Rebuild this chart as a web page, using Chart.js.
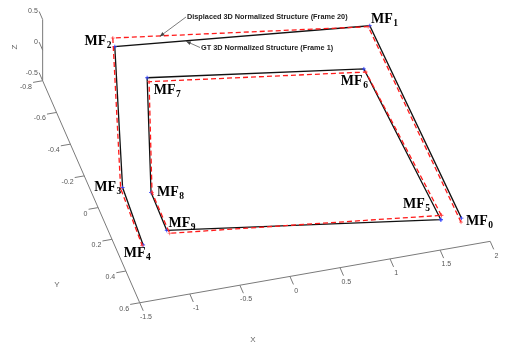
<!DOCTYPE html>
<html><head><meta charset="utf-8">
<script src="https://cdn.jsdelivr.net/npm/chart.js@4.4.1/dist/chart.umd.min.js"></script>
<style>html,body{margin:0;padding:0;background:#fff;}#wrap{width:510px;height:347px;position:relative;}</style>
</head><body><div id="wrap"><canvas id="c"></canvas></div>
<script>
// ---- data (3D normalized coordinates) ----
const pointNames = ['0','1','2','3','4','5','6','7','8','9'];
const gtX = [1.703, 1.633, -0.817, -1.316, -1.358, 1.506, 1.403, -0.643, -1.072, -1.080];
const gtY = [0.614, -0.607, -0.746, 0.087, 0.444, 0.602, -0.360, -0.531, 0.145, 0.383];
const gtZ = [0, 0, 0, 0, 0, 0, 0, 0, 0, 0];
const dispX = [1.683, 1.615, -0.800, -1.338, -1.369, 1.528, 1.409, -0.641, -1.063, -1.065];
const dispY = [0.637, -0.603, -0.799, 0.091, 0.446, 0.577, -0.340, -0.506, 0.146, 0.403];
const dispZ = [0, 0, 0, 0, 0, 0, 0, 0, 0, 0];
const outerPath = [0, 1, 2, 3, 4];
const innerPath = [5, 6, 7, 8, 9, 5];
const seriesNames = ['GT 3D Normalized Structure (Frame 1)', 'Displaced 3D Normalized Structure (Frame 20)'];
const xTicks = [-1.5, -1, -0.5, 0, 0.5, 1, 1.5, 2];
const yTicks = [-0.8, -0.6, -0.4, -0.2, 0, 0.2, 0.4, 0.6];
const zTicks = [-0.5, 0, 0.5];
const xLimits = [-1.5, 2];
const yLimits = [-0.8, 0.6];
const zLimits = [-0.5, 0.5];
const axisTitles = ['X', 'Y', 'Z'];

// ---- view / style ----
const view = {ox: 248.2, oy: 150.0, ex: [102.1, -18.06], ey: [70.7, 163.2], ez: [0, -63]};
function proj(x, y, z) {
  return {x: view.ox + x*view.ex[0] + y*view.ey[0] + z*view.ez[0],
          y: view.oy + x*view.ex[1] + y*view.ey[1] + z*view.ez[1]};
}
function unit(v){const l=Math.hypot(v[0],v[1]);return [v[0]/l,v[1]/l];}
const labelOffsets = [[4.5,7],[1.3,-3.2],[-30.3,-1.3],[-28.3,3.7],[-19.3,12.3],[-37.8,-11.7],[-23,15.7],[6.7,16.7],[6,3.7],[1.7,-3.7]];
const AXIS_COLOR = '#7a7a7a';
const TICK_LEN = 9;

function pathData(X, Y, Z, idx){ return idx.map(i => proj(X[i], Y[i], Z[i])); }

const datasets = [];
// series
const redStyle = {showLine: true, borderColor: '#ff1a1a', borderWidth: 1.3, borderDash: [5, 3], pointStyle: 'cross',
  pointRadius: 2, pointBorderColor: 'rgba(255,60,60,0.8)', pointBorderWidth: 0.8, order: 1};
const gtStyle = {showLine: true, borderColor: '#111', borderWidth: 1.3, pointStyle: 'cross', pointRadius: 2,
  pointBorderColor: '#3344ff', pointBorderWidth: 0.9, order: 2};
datasets.push(Object.assign({label: seriesNames[1], data: pathData(dispX, dispY, dispZ, outerPath)}, redStyle));
datasets.push(Object.assign({label: seriesNames[1], data: pathData(dispX, dispY, dispZ, innerPath)}, redStyle));
datasets.push(Object.assign({label: seriesNames[0], data: pathData(gtX, gtY, gtZ, outerPath)}, gtStyle));
datasets.push(Object.assign({label: seriesNames[0], data: pathData(gtX, gtY, gtZ, innerPath)}, gtStyle));

// axes
function seg(a, b){ datasets.push({data: [a, b], showLine: true, borderColor: AXIS_COLOR, borderWidth: 1, pointRadius: 0, order: 5}); }
const tickDirX = unit(view.ey), tickDirY = unit([-view.ex[0], -view.ex[1]]), tickDirZ = unit([-view.ey[0], -view.ey[1]]);
seg(proj(xLimits[0], yLimits[1], zLimits[0]), proj(xLimits[1], yLimits[1], zLimits[0]));
seg(proj(xLimits[0], yLimits[0], zLimits[0]), proj(xLimits[0], yLimits[1], zLimits[0]));
seg(proj(xLimits[0], yLimits[0], zLimits[0]), proj(xLimits[0], yLimits[0], zLimits[1]));
const tickLabelPos = [];
xTicks.forEach(t => { const p = proj(t, yLimits[1], zLimits[0]);
  seg(p, {x: p.x + tickDirX[0]*TICK_LEN, y: p.y + tickDirX[1]*TICK_LEN});
  tickLabelPos.push({text: String(t), x: p.x + tickDirX[0]*16, y: p.y + tickDirX[1]*16, align: 'center'}); });
yTicks.forEach(t => { const p = proj(xLimits[0], t, zLimits[0]);
  seg(p, {x: p.x + tickDirY[0]*TICK_LEN*1.1, y: p.y + tickDirY[1]*TICK_LEN*1.1});
  tickLabelPos.push({text: String(t), x: p.x + tickDirY[0]*10 - 1, y: p.y + tickDirY[1]*10 + 4.5, align: 'right'}); });
zTicks.forEach(t => { const p = proj(xLimits[0], yLimits[0], t);
  seg(p, {x: p.x + tickDirZ[0]*TICK_LEN, y: p.y + tickDirZ[1]*TICK_LEN});
  tickLabelPos.push({text: String(t), x: p.x + tickDirZ[0]*10 - 1, y: p.y + tickDirZ[1]*10 + 1, align: 'right'}); });

function arrow(ctx, x0, y0, x1, y1){
  ctx.save(); ctx.strokeStyle = '#444'; ctx.fillStyle = '#444'; ctx.lineWidth = 0.7;
  ctx.beginPath(); ctx.moveTo(x0, y0); ctx.lineTo(x1, y1); ctx.stroke();
  const a = Math.atan2(y1 - y0, x1 - x0), L = 5, w = 0.4;
  ctx.beginPath(); ctx.moveTo(x1, y1);
  ctx.lineTo(x1 - L*Math.cos(a - w), y1 - L*Math.sin(a - w));
  ctx.lineTo(x1 - L*Math.cos(a + w), y1 - L*Math.sin(a + w)); ctx.closePath(); ctx.fill();
  ctx.restore();
}
function along(X, Y, Z, i, j, t){ const a = proj(X[i],Y[i],Z[i]), b = proj(X[j],Y[j],Z[j]); return {x: a.x + (b.x-a.x)*t, y: a.y + (b.y-a.y)*t}; }

const overlay = {
  id: 'overlay',
  afterDatasetsDraw(chart){
    const ctx = chart.ctx, sx = chart.scales.x, sy = chart.scales.y;
    ctx.save();
    // tick labels
    ctx.fillStyle = '#555'; ctx.font = '7px "Liberation Sans", Arial, sans-serif'; ctx.textBaseline = 'middle';
    tickLabelPos.forEach(l => { ctx.textAlign = l.align; ctx.fillText(l.text, sx.getPixelForValue(l.x), sy.getPixelForValue(l.y)); });
    // axis titles
    ctx.font = '8px "Liberation Sans", Arial, sans-serif'; ctx.textAlign = 'center'; ctx.fillStyle = '#666';
    ctx.fillText(axisTitles[0], 253, 340);
    ctx.fillText(axisTitles[1], 57, 285);
    ctx.save(); ctx.translate(15, 47); ctx.rotate(-Math.PI/2); ctx.fillText(axisTitles[2], 0, 0); ctx.restore();
    // point labels
    ctx.fillStyle = '#000'; ctx.textAlign = 'left'; ctx.textBaseline = 'alphabetic';
    pointNames.forEach((n, i) => {
      const p = proj(gtX[i], gtY[i], gtZ[i]);
      const x = sx.getPixelForValue(p.x) + labelOffsets[i][0], y = sy.getPixelForValue(p.y) + labelOffsets[i][1];
      ctx.font = 'bold 14px "Liberation Serif", "Times New Roman", serif';
      ctx.fillText('MF', x, y);
      const w = ctx.measureText('MF').width;
      ctx.font = 'bold 9.5px "Liberation Serif", "Times New Roman", serif';
      ctx.fillText(n, x + w + 0.5, y + 3);
    });
    // annotations
    const tipD = along(dispX, dispY, dispZ, 2, 1, 0.184);
    const tipG = along(gtX, gtY, gtZ, 2, 1, 0.28);
    ctx.font = 'bold 7.3px "Liberation Sans", Arial, sans-serif'; ctx.fillStyle = '#222'; ctx.textBaseline = 'middle';
    ctx.fillText(seriesNames[1], 187, 17);
    ctx.fillText(seriesNames[0], 201, 48);
    arrow(ctx, 186, 17, sx.getPixelForValue(tipD.x), sy.getPixelForValue(tipD.y) + 0.5);
    arrow(ctx, 200, 47.5, sx.getPixelForValue(tipG.x), sy.getPixelForValue(tipG.y) + 0.5);
    ctx.restore();
  }
};

new Chart(document.getElementById('c'), {
  type: 'scatter',
  data: {datasets},
  options: {
    responsive: true, maintainAspectRatio: false, animation: false, devicePixelRatio: 1,
    layout: {padding: 0},
    plugins: {legend: {display: false}, tooltip: {enabled: false}},
    elements: {line: {tension: 0}},
    scales: {
      x: {type: 'linear', min: 0, max: 510, display: false},
      y: {type: 'linear', min: 0, max: 347, reverse: true, display: false}
    }
  },
  plugins: [overlay]
});
</script></body></html>
